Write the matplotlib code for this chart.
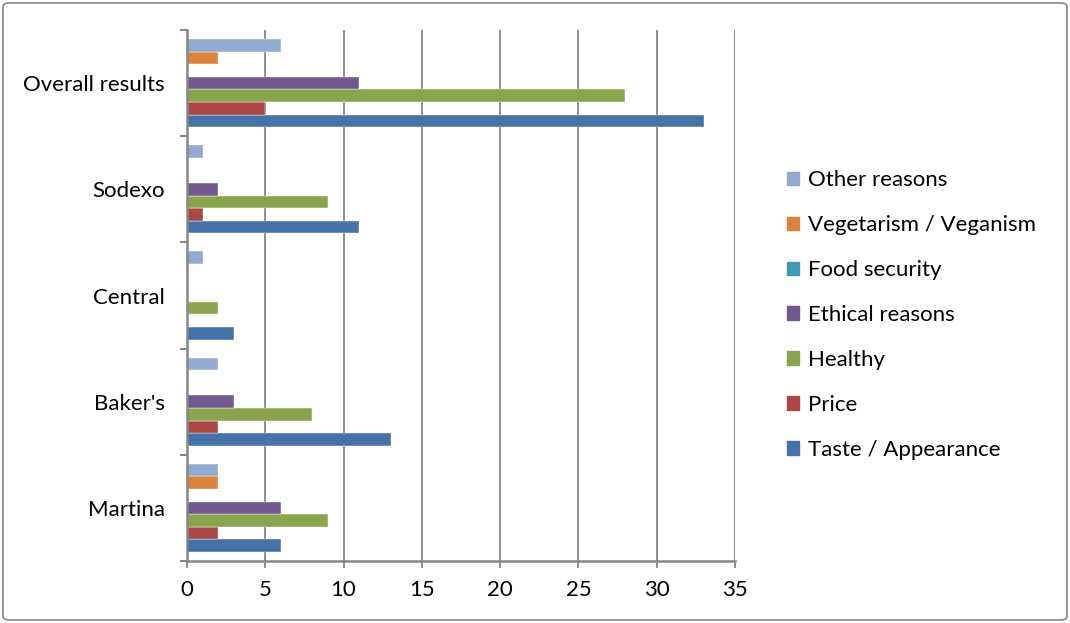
import matplotlib
matplotlib.use("Agg")
import matplotlib.pyplot as plt
import numpy as np
from matplotlib.patches import FancyBboxPatch, Patch

categories = ["Martina", "Baker's", "Central", "Sodexo", "Overall results"]
series_names = ["Taste / Appearance", "Price", "Healthy", "Ethical reasons",
                "Food security", "Vegetarism / Veganism", "Other reasons"]
taste = [6, 13, 3, 11, 33]
price = [2, 2, 0, 1, 5]
healthy = [9, 8, 2, 9, 28]
ethical = [6, 3, 0, 2, 11]
food_security = [0, 0, 0, 0, 0]
vegetarism = [2, 0, 0, 0, 2]
other = [2, 2, 1, 1, 6]
series = [taste, price, healthy, ethical, food_security, vegetarism, other]
colors = ["#4572A7", "#AA4643", "#89A54E", "#71588F", "#4198AF", "#DB843D", "#93A9CF"]
xticks = [0, 5, 10, 15, 20, 25, 30, 35]

plt.rcParams['font.family'] = ['Lato', 'DejaVu Sans']

fig = plt.figure(figsize=(10.70, 6.23), dpi=100)
ax = fig.add_axes([187/1070, 1-561/623, (735-187)/1070, (561-30)/623])

n = len(series)
group = 0.83
bh = group / n
y = np.arange(len(categories))
for i, (vals, c, name) in enumerate(zip(series, colors, series_names)):
    ax.barh(y - group/2 + bh*(i+0.5), vals, height=bh, color=c, label=name,
            edgecolor='white', linewidth=0.3)

ax.set_xlim(0, 35)
ax.set_ylim(-0.5, len(categories)-0.5)
ax.set_xticks(xticks)
ax.set_xticklabels([str(t) for t in xticks], fontsize=16)
ax.set_yticks(y)
ax.set_yticklabels(categories, fontsize=16)
ax.set_yticks(np.arange(-0.5, len(categories), 1), minor=True)
ax.tick_params(axis='y', which='major', length=0, pad=16)
ax.tick_params(axis='y', which='minor', length=5, color='#868686', width=1.5, direction='out')
ax.tick_params(axis='x', length=5, color='#868686', width=1.3, pad=9)
ax.grid(axis='x', color='#868686', linewidth=1.3)
ax.set_axisbelow(True)
for s in ['top', 'right']:
    ax.spines[s].set_visible(False)
for s in ['left', 'bottom']:
    ax.spines[s].set_color('#868686')
    ax.spines[s].set_linewidth(1.8)

handles = [Patch(color=c, label=nm) for c, nm in zip(colors, series_names)][::-1]
leg = fig.legend(handles=handles, loc='center left', bbox_to_anchor=(767/1070, 1-315/623),
                 frameon=False, fontsize=16, handlelength=0.55, handleheight=0.55,
                 labelspacing=1.12, handletextpad=0.4)

border = FancyBboxPatch((3/1070, 3/623), 1-6/1070, 1-6/623,
                        boxstyle="round,pad=0,rounding_size=0.006",
                        transform=fig.transFigure, fill=False,
                        edgecolor='#868686', linewidth=1.2)
fig.patches.append(border)

fig.savefig("out.png", dpi=100)
